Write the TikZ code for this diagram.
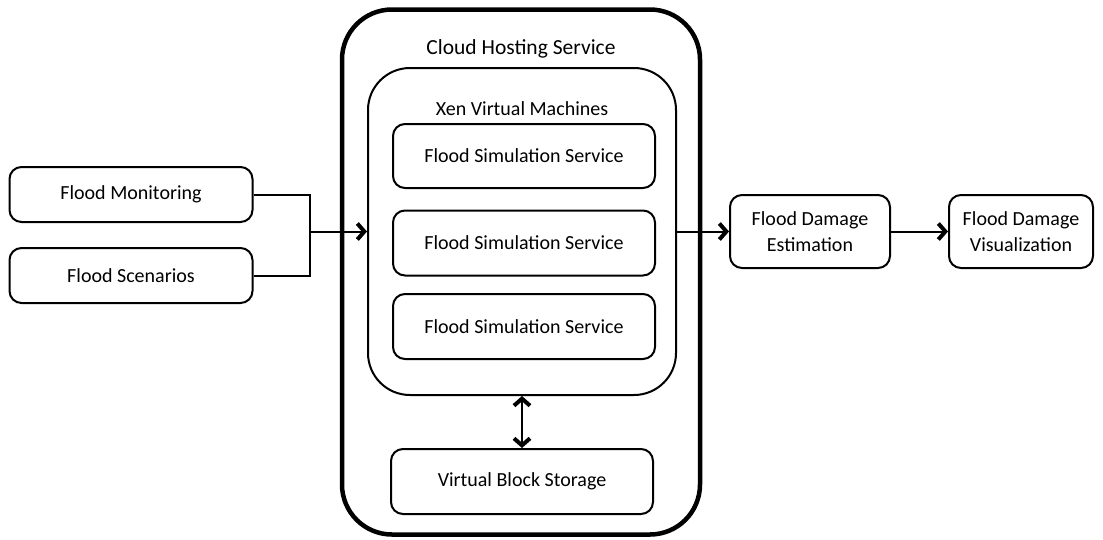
\documentclass[tikz,border=0pt]{standalone}
\usepackage{fontspec}
\setmainfont{Carlito}
\usetikzlibrary{arrows.meta}
\begin{document}
\begin{tikzpicture}[x=1pt,y=-1pt,
  box/.style={draw, line width=2pt, rounded corners=12pt, align=center,
    font=\fontsize{20}{26}\selectfont, inner sep=0pt},
  title/.style={font=\fontsize{21.5}{26}\selectfont, inner sep=0pt},
  conn/.style={line width=2pt},
  arr/.style={conn, -{Straight Barb[length=7pt,width=16pt,line width=4pt]}},
  darr/.style={conn, {Straight Barb[length=7pt,width=16pt,line width=4pt]}-{Straight Barb[length=7pt,width=16pt,line width=4pt]}}]
\useasboundingbox (0,0) rectangle (1103,539);
% containers
\node[draw, line width=4.5pt, rounded corners=50pt, minimum width=358pt, minimum height=525pt, inner sep=0pt] (cloud) at (521,272) {};
\node[title] (cloudt) at (521,49) {Cloud Hosting Service};
\node[draw, line width=2pt, rounded corners=42pt, minimum width=308pt, minimum height=327pt, inner sep=0pt] (xen) at (522,231.5) {};
\node[title, font=\fontsize{20}{26}\selectfont] (xent) at (522,109) {Xen Virtual Machines};
% simulation services
\node[box, minimum width=262pt, minimum height=64pt] (s1) at (524,156) {Flood Simulation Service};
\node[box, minimum width=262pt, minimum height=65pt] (s2) at (524,243) {Flood Simulation Service};
\node[box, minimum width=262pt, minimum height=65pt] (s3) at (524,326.5) {Flood Simulation Service};
\node[box, minimum width=262pt, minimum height=65pt] (vbs) at (522,481.5) {Virtual Block Storage};
% inputs
\node[box, minimum width=243pt, minimum height=55pt] (mon) at (131,194.5) {Flood Monitoring};
\node[box, minimum width=243pt, minimum height=55pt] (scen) at (131,275.5) {Flood Scenarios};
% outputs
\node[box, minimum width=160pt, minimum height=73pt] (est) at (810,231.5) {Flood Damage\\Estimation};
\node[box, minimum width=144pt, minimum height=73pt] (vis) at (1021,231.5) {Flood Damage\\Visualization};
% connectors
\coordinate (j) at (310,231.5);
\draw[conn] (mon.east) -| (j);
\draw[conn] (scen.east) -| (j);
\draw[arr] (j) -- (xen.west);
\draw[arr] (xen.east) -- (est.west);
\draw[arr] (est.east) -- (vis.west);
\draw[darr] (xen.south -| vbs.north) -- (vbs.north);
\end{tikzpicture}
\end{document}
